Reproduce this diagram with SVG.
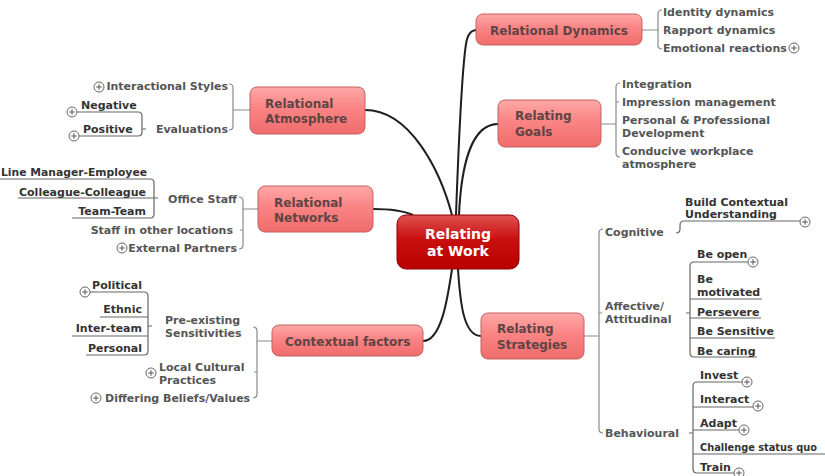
<svg xmlns="http://www.w3.org/2000/svg" width="825" height="476" viewBox="0 0 825 476">
<defs>
<linearGradient id="gMain" x1="0" y1="0" x2="0" y2="1">
<stop offset="0" stop-color="#ffa8a8"/>
<stop offset="0.45" stop-color="#fa8484"/>
<stop offset="1" stop-color="#f06c6c"/>
</linearGradient>
<linearGradient id="gCentral" x1="0" y1="0" x2="0" y2="1">
<stop offset="0" stop-color="#e05050"/>
<stop offset="0.45" stop-color="#c81010"/>
<stop offset="1" stop-color="#b80000"/>
</linearGradient>
<g id="plus">
<circle cx="0" cy="0" r="5" fill="#fff" stroke="#666" stroke-width="1"/>
<path d="M-2.8,0 H2.8 M0,-2.8 V2.8" stroke="#555" stroke-width="1"/>
</g>
</defs>
<style>
text{font-family:"DejaVu Sans","Liberation Sans",sans-serif;font-weight:bold}
.main{fill:url(#gMain);stroke:#c46060;stroke-width:1}
.mt{font-size:12px;fill:#5e4444}
.ct{font-size:14px;fill:#fff;text-anchor:middle}
.s{font-size:11px;fill:#555}
.ss{font-size:11px;fill:#333}
.r{text-anchor:end}
.trunk{fill:none;stroke:#1e1e1e;stroke-width:2}
.br{fill:none;stroke:#8a8a8a;stroke-width:1.2}
.ul{fill:none;stroke:#666;stroke-width:1.2}
</style>
<rect width="825" height="476" fill="#fff"/>

<g id="connectors">
<path class="trunk" d="M456,215 C458,160 462,70 466,44 Q468,30 477,30"/>
<path class="trunk" d="M459,215 C461,170 470,124 498,124"/>
<path class="trunk" d="M365,110 C410,110 440,170 452,215"/>
<path class="trunk" d="M373,209 C392,209 404,211 413,215"/>
<path class="trunk" d="M423,341 C442,341 448,295 452,269"/>
<path class="trunk" d="M481,336 C463,336 460,300 458,269"/>

<path class="br" d="M642,30 L658,30 M662,10 Q658,10 658,14 L658,45 Q658,49 662,49"/>
<path class="br" d="M601,124 L616,124 M620,83 Q616,83 616,87 L616,153 Q616,157 620,157 M616,102 L619,102"/>
<path class="br" d="M250,110 L233,110 M229,84 Q233,84 233,88 L233,126 Q233,130 229,130"/>
<path class="ul" d="M77,112 L138,112 Q142,112 142,116 L142,132 Q142,136 138,136 L79,136 M142,129 L146,129"/>
<path class="br" d="M258,209 L243,209 M239,197 Q243,197 243,201 L243,245 Q243,249 239,249 M243,230 L240,230"/>
<path class="ul" d="M0,179 L150,179 Q154,179 154,183 L154,214 Q154,218 150,218 L72,218 M18,198 L158,198"/>
<path class="br" d="M272,341 L257,341 M253,327 Q257,327 257,331 L257,394 Q257,398 253,398 M257,372 L254,372"/>
<path class="ul" d="M90,292 L144,292 Q148,292 148,296 L148,351 Q148,355 144,355 L86,355 M100,317 L148,317 M72,336 L148,336 M148,326 L152,326"/>
<path class="br" d="M584,336 L599,336 M603,229 Q599,229 599,233 L599,429 Q599,433 603,433 M599,313 L602,313"/>
<path class="ul" d="M676,233 Q680,233 680,229 L680,225 Q680,221 684,221 L800,221"/>
<path class="ul" d="M748,262 L694,262 Q690,262 690,266 L690,353 Q690,357 694,357 L757,357 M690,299 L762,299 M690,318 L761,318 M690,338 L775,338 M686,313 L690,313"/>
<path class="ul" d="M743,382 L697,382 Q693,382 693,386 L693,469 Q693,473 697,473 L735,473 M693,407 L753,407 M693,430 L739,430 M693,454 L825,454 M689,433 L693,433"/>
</g>

<g id="central">
<rect x="397" y="215" width="122" height="54" rx="9" fill="url(#gCentral)" stroke="#8e0000" stroke-width="1"/>
<text class="ct" x="458" y="239">Relating</text>
<text class="ct" x="458" y="256">at Work</text>
</g>

<g id="relational-dynamics">
<rect class="main" x="476" y="14" width="166" height="31" rx="7"/>
<text class="mt" x="490" y="35">Relational Dynamics</text>
<text class="s" x="663" y="16">Identity dynamics</text>
<text class="s" x="663" y="34">Rapport dynamics</text>
<text class="s" x="663" y="52">Emotional reactions</text>
<use href="#plus" x="794" y="48"/>
</g>

<g id="relating-goals">
<rect class="main" x="498" y="100" width="103" height="47" rx="7"/>
<text class="mt" x="515" y="120">Relating</text>
<text class="mt" x="515" y="136">Goals</text>
<text class="s" x="622" y="88">Integration</text>
<text class="s" x="622" y="106">Impression management</text>
<text class="s" x="622" y="124">Personal &amp; Professional</text>
<text class="s" x="622" y="137">Development</text>
<text class="s" x="622" y="155">Conducive workplace</text>
<text class="s" x="622" y="168">atmosphere</text>
</g>

<g id="relational-atmosphere">
<rect class="main" x="250" y="87" width="115" height="47" rx="7"/>
<text class="mt" x="265" y="108">Relational</text>
<text class="mt" x="265" y="123">Atmosphere</text>
<text class="s r" x="228" y="90">Interactional Styles</text>
<use href="#plus" x="99" y="87"/>
<text class="s r" x="228" y="133">Evaluations</text>
<text class="ss" x="81" y="109">Negative</text>
<use href="#plus" x="72" y="112"/>
<text class="ss" x="83" y="133">Positive</text>
<use href="#plus" x="74" y="136"/>
</g>

<g id="relational-networks">
<rect class="main" x="258" y="186" width="115" height="46" rx="7"/>
<text class="mt" x="274" y="207">Relational</text>
<text class="mt" x="274" y="222">Networks</text>
<text class="s r" x="237" y="203">Office Staff</text>
<text class="s r" x="233" y="234">Staff in other locations</text>
<text class="s r" x="237" y="252">External Partners</text>
<use href="#plus" x="122" y="248"/>
<text class="ss" x="1" y="176" textLength="146" lengthAdjust="spacingAndGlyphs">Line Manager-Employee</text>
<text class="ss r" x="146" y="196">Colleague-Colleague</text>
<text class="ss r" x="146" y="215">Team-Team</text>
</g>

<g id="contextual-factors">
<rect class="main" x="272" y="325" width="151" height="31" rx="7"/>
<text class="mt" x="285" y="346">Contextual factors</text>
<text class="s" x="165" y="324">Pre-existing</text>
<text class="s" x="165" y="337">Sensitivities</text>
<text class="s" x="159" y="371">Local Cultural</text>
<text class="s" x="159" y="384">Practices</text>
<use href="#plus" x="151" y="373"/>
<text class="s" x="105" y="402">Differing Beliefs/Values</text>
<use href="#plus" x="96" y="398"/>
<text class="ss r" x="142" y="289">Political</text>
<use href="#plus" x="85" y="292"/>
<text class="ss r" x="142" y="313">Ethnic</text>
<text class="ss r" x="142" y="332">Inter-team</text>
<text class="ss r" x="142" y="352">Personal</text>
</g>

<g id="relating-strategies">
<rect class="main" x="481" y="313" width="103" height="46" rx="7"/>
<text class="mt" x="497" y="333">Relating</text>
<text class="mt" x="497" y="349">Strategies</text>
<text class="s" x="605" y="236">Cognitive</text>
<text class="s" x="605" y="310">Affective/</text>
<text class="s" x="605" y="323">Attitudinal</text>
<text class="s" x="605" y="437">Behavioural</text>
<text class="ss" x="685" y="206">Build Contextual</text>
<text class="ss" x="685" y="218">Understanding</text>
<use href="#plus" x="805" y="222"/>
<text class="ss" x="697" y="258">Be open</text>
<use href="#plus" x="753" y="262"/>
<text class="ss" x="697" y="283">Be</text>
<text class="ss" x="697" y="296">motivated</text>
<text class="ss" x="697" y="316">Persevere</text>
<text class="ss" x="697" y="335">Be Sensitive</text>
<text class="ss" x="697" y="355">Be caring</text>
<text class="ss" x="700" y="379">Invest</text>
<use href="#plus" x="747" y="382"/>
<text class="ss" x="700" y="403">Interact</text>
<use href="#plus" x="758" y="406"/>
<text class="ss" x="700" y="427">Adapt</text>
<use href="#plus" x="744" y="430"/>
<text class="ss" x="700" y="451" textLength="117" lengthAdjust="spacingAndGlyphs">Challenge status quo</text>
<text class="ss" x="700" y="471">Train</text>
<use href="#plus" x="739" y="473"/>
</g>
</svg>
